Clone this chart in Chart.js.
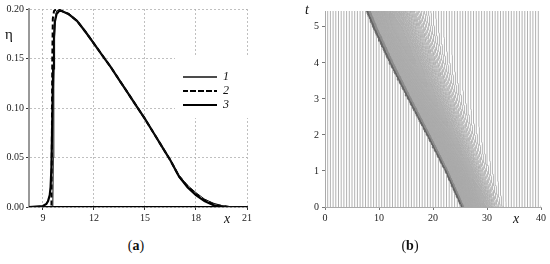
<!DOCTYPE html>
<html>
<head>
<meta charset="utf-8">
<script src="https://cdn.jsdelivr.net/npm/chart.js@4.4.0/dist/chart.umd.min.js"></script>
<style>
  body { margin: 0; background: #fff; width: 550px; height: 264px; position: relative; overflow: hidden; font-family: "Liberation Serif", serif; color: #111; }
  canvas { position: absolute; top: 0; }
  #ca { left: 0; }
  #cb { left: 275px; }
  .sym { position: absolute; font-style: italic; font-size: 14px; line-height: 1; }
  .cap { position: absolute; top: 239px; width: 40px; text-align: center; font-size: 14px; line-height: 1; }
</style>
</head>
<body>
<canvas id="ca" width="275" height="235"></canvas>
<canvas id="cb" width="275" height="235"></canvas>
<span class="sym" style="left:5px;top:27px;font-style:normal;font-size:15px;">η</span>
<span class="sym" style="left:224px;top:212px;">x</span>
<span class="sym" style="left:305px;top:3px;">t</span>
<span class="sym" style="left:513px;top:212px;">x</span>
<div class="cap" style="left:116px;">(<b>a</b>)</div>
<div class="cap" style="left:390px;">(<b>b</b>)</div>
<script>
// ---- panel (a): wave profiles eta(x) ----
var xTicksA = [9, 12, 15, 18, 21];
var etaTicks = [0, 0.05, 0.1, 0.15, 0.2];

var x1 = [8.18, 9.58, 9.61, 9.64, 9.68, 9.73, 9.8, 9.9, 10.1, 10.5, 11, 11.5, 12, 12.5, 13, 13.5, 14, 14.5, 15, 15.5, 16, 16.5, 17, 17.5, 18, 18.5, 19, 19.5, 20, 20.3, 21];
var eta1 = [0, 0, 0.05, 0.12, 0.17, 0.192, 0.198, 0.199, 0.198, 0.195, 0.188, 0.177, 0.165, 0.153, 0.141, 0.128, 0.115, 0.102, 0.089, 0.075, 0.061, 0.047, 0.032, 0.022, 0.0145, 0.008, 0.004, 0.0015, 0.0003, 0, 0];

var x2 = [8.18, 9.5, 9.52, 9.55, 9.58, 9.65, 9.8, 10, 10.5, 11, 11.5, 12, 12.5, 13, 13.5, 14, 14.5, 15, 15.5, 16, 16.5, 17, 17.5, 18, 18.5, 19, 19.5, 20, 21];
var eta2 = [0, 0, 0.05, 0.15, 0.19, 0.198, 0.2, 0.199, 0.195, 0.188, 0.177, 0.165, 0.153, 0.141, 0.128, 0.115, 0.102, 0.089, 0.075, 0.061, 0.047, 0.031, 0.021, 0.013, 0.007, 0.003, 0.001, 0, 0];

var x3 = [8.18, 9.0, 9.2, 9.3, 9.4, 9.45, 9.5, 9.55, 9.6, 9.65, 9.7, 9.8, 9.95, 10.1, 10.5, 11, 11.5, 12, 12.5, 13, 13.5, 14, 14.5, 15, 15.5, 16, 16.5, 17, 17.5, 18, 18.5, 19, 19.5, 19.8, 21];
var eta3 = [0, 0.001, 0.003, 0.006, 0.012, 0.02, 0.04, 0.09, 0.14, 0.172, 0.187, 0.195, 0.198, 0.198, 0.195, 0.188, 0.177, 0.165, 0.153, 0.141, 0.128, 0.115, 0.102, 0.089, 0.075, 0.061, 0.047, 0.031, 0.02, 0.012, 0.006, 0.002, 0.0005, 0, 0];

// ---- panel (b): particle paths x(t) ----
var xTicksB = [0, 10, 20, 30, 40];
var tTicks = [0, 1, 2, 3, 4, 5];
var tMax = 5.44;
var tFront = [0, 1, 2, 3, 4, 5, 5.44];
var frontLeft = [25.2, 22.2, 18.8, 15.3, 11.9, 8.8, 7.6];   // leading edge of the wave
var frontRight = [34.5, 32.2, 29.8, 27.4, 25.0, 22.5, 21.4]; // trailing edge
var particleStep = 0.5;
var massShift = 40;   // total drift of a particle after the wave has passed
var tStep = 0.04;

function pts(xs, ys) {
  return xs.map(function (v, i) { return { x: v, y: ys[i] }; });
}

function interp(xs, ys, v) {
  if (v <= xs[0]) return ys[0];
  for (var i = 1; i < xs.length; i++) {
    if (v <= xs[i]) {
      var f = (v - xs[i - 1]) / (xs[i] - xs[i - 1]);
      return ys[i - 1] + f * (ys[i] - ys[i - 1]);
    }
  }
  return ys[ys.length - 1];
}

// cumulative share of the wave profile (curve 1) behind a point, normalised 0..1
var pStart = 9.58, pEnd = 20.3;
var cumS = [0], cumF = [0];
(function () {
  var acc = 0;
  for (var i = 1; i < x1.length; i++) {
    if (x1[i] <= pStart || x1[i - 1] >= pEnd) continue;
    acc += 0.5 * (eta1[i] + eta1[i - 1]) * (x1[i] - x1[i - 1]);
    cumS.push((x1[i] - pStart) / (pEnd - pStart));
    cumF.push(acc);
  }
  for (var j = 0; j < cumF.length; j++) cumF[j] /= acc;
})();

function passed(s) {
  if (s <= 0) return 0;
  if (s >= 1) return 1;
  return interp(cumS, cumF, s);
}

function waveCoord(x, t) {
  var L = interp(tFront, frontLeft, t), R = interp(tFront, frontRight, t);
  return (x - L) / (R - L);
}

function posAt(a, t) {
  var lo = a - massShift - 1, hi = a + 1;
  for (var k = 0; k < 40; k++) {
    var mid = 0.5 * (lo + hi);
    var g = mid + massShift * passed(waveCoord(mid, t));
    if (g < a) lo = mid; else hi = mid;
  }
  return 0.5 * (lo + hi);
}

// particles riding the steep leading edge are drawn darker
function segColor(ctx) {
  var d = paths[ctx.datasetIndex].data;
  var s0 = d[ctx.p0DataIndex].s, s1 = d[ctx.p1DataIndex].s;
  var s = Math.max(s0, s1);
  if (s0 > -0.005 && s < 0.025) return '#606060';
  if (s0 > -0.005 && s < 0.06) return '#8a8a8a';
  return undefined;
}

var paths = [];
var nLines = Math.round((40 + massShift) / particleStep);
for (var n = 0; n <= nLines; n++) {
  var a = n * particleStep;
  var d = [];
  for (var t = 0; t < tMax + 1e-9; t += tStep) {
    var xp = posAt(a, t);
    d.push({ x: xp, y: t, s: waveCoord(xp, t) });
  }
  if (d[d.length - 1].y < tMax - 1e-9) {
    var xe = posAt(a, tMax);
    d.push({ x: xe, y: tMax, s: waveCoord(xe, tMax) });
  }
  paths.push({
    data: d, borderColor: '#a9a9a9', backgroundColor: '#a9a9a9', borderWidth: 0.9,
    pointRadius: 0, fill: false, segment: { borderColor: segColor }
  });
}

var serif = 'Liberation Serif';

var legendBox = {
  id: 'legendBox',
  afterLayout: function (chart) {
    var lg = chart.legend;
    if (!lg) return;
    lg.left = 181; lg.top = 69; lg.right = 250; lg.bottom = 130;
  },
  beforeDatasetsDraw: function (chart) {
    var lg = chart.legend;
    if (!lg) return;
    var ctx = chart.ctx;
    ctx.save();
    ctx.fillStyle = '#fff';
    ctx.fillRect(175, 57, 73, 61);
    ctx.restore();
    lg.draw();
  }
};

new Chart(document.getElementById('ca'), {
  type: 'line',
  data: {
    datasets: [
      { label: '1', data: pts(x1, eta1), borderColor: '#111', backgroundColor: 'rgba(0,0,0,0)', borderWidth: 1 },
      { label: '2', data: pts(x2, eta2), borderColor: '#000', backgroundColor: 'rgba(0,0,0,0)', borderWidth: 2, borderDash: [5, 3] },
      { label: '3', data: pts(x3, eta3), borderColor: '#000', backgroundColor: 'rgba(0,0,0,0)', borderWidth: 2.2 }
    ]
  },
  options: {
    responsive: false,
    animation: false,
    events: [],
    layout: { padding: { top: 9, right: 28, left: 0, bottom: 0 } },
    elements: { point: { radius: 0 }, line: { tension: 0 } },
    plugins: {
      tooltip: { enabled: false },
      legend: {
        position: 'chartArea',
        align: 'start',
        labels: {
          boxWidth: 34, boxHeight: 0, padding: 2,
          color: '#111', font: { family: serif, size: 12, style: 'italic' }
        }
      }
    },
    scales: {
      x: {
        type: 'linear', min: 8.18, max: 21,
        afterFit: function (s) { s.height = 28; },
        afterBuildTicks: function (s) { s.ticks = xTicksA.map(function (v) { return { value: v }; }); },
        grid: { color: '#b0b0b0', lineWidth: 0.8, tickLength: 3, tickColor: '#333', tickWidth: 1 },
        border: { display: true, color: '#000', width: 1.3, dash: [2, 2] },
        ticks: { padding: 2, color: '#222', font: { family: serif, size: 10 } }
      },
      y: {
        type: 'linear', min: 0, max: 0.2,
        afterFit: function (s) { s.width = 29; },
        afterBuildTicks: function (s) { s.ticks = etaTicks.map(function (v) { return { value: v }; }); },
        grid: { color: '#b0b0b0', lineWidth: 0.8, tickLength: 3, tickColor: '#333', tickWidth: 1 },
        border: { display: true, color: '#999', width: 2, dash: [2, 2] },
        ticks: { padding: 2, color: '#222', font: { family: serif, size: 10 }, callback: function (v) { return v.toFixed(2); } }
      }
    }
  },
  plugins: [legendBox]
});

new Chart(document.getElementById('cb'), {
  type: 'line',
  data: { datasets: paths },
  options: {
    responsive: false,
    animation: false,
    events: [],
    parsing: false,
    normalized: true,
    layout: { padding: { top: 11, right: 9, left: 0, bottom: 0 } },
    elements: { point: { radius: 0 }, line: { tension: 0 } },
    plugins: { legend: { display: false }, tooltip: { enabled: false } },
    scales: {
      x: {
        type: 'linear', min: 0, max: 40,
        afterFit: function (s) { s.height = 28; },
        afterBuildTicks: function (s) { s.ticks = xTicksB.map(function (v) { return { value: v }; }); },
        grid: { drawOnChartArea: false, tickLength: 3, tickColor: '#777' },
        border: { display: true, color: '#aaa', width: 1 },
        ticks: { padding: 2, color: '#222', font: { family: serif, size: 10 } }
      },
      y: {
        type: 'linear', min: 0, max: tMax,
        afterFit: function (s) { s.width = 50; },
        afterBuildTicks: function (s) { s.ticks = tTicks.map(function (v) { return { value: v }; }); },
        grid: { drawOnChartArea: false, tickLength: 3, tickColor: '#777' },
        border: { display: true, color: '#aaa', width: 1 },
        ticks: { padding: 3, color: '#222', font: { family: serif, size: 10 } }
      }
    }
  }
});
</script>
</body>
</html>
